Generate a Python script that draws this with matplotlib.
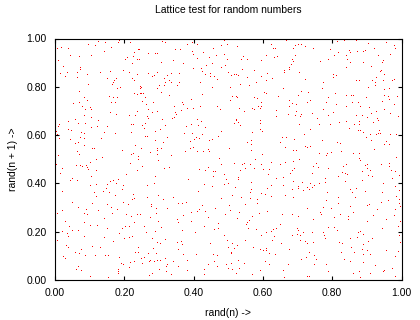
import matplotlib
matplotlib.use("Agg")
import matplotlib.pyplot as plt
from matplotlib.ticker import FormatStrFormatter

# (rand(n), rand(n+1)) pairs, grouped by horizontal band
band_top = [
    (0.184,0.992),(0.125,0.988),(0.217,0.984),(0.145,0.984),(0.182,0.984),(0.096,0.977),(0.115,0.972),(0.018,0.963),(0.006,0.959),(0.038,0.959),
    (0.162,0.963),(0.243,0.955),(0.239,0.955),(0.142,0.947),(0.227,0.943),(0.044,0.930),(0.104,0.930),(0.070,0.926),(0.208,0.922),(0.224,0.926),
    (0.203,0.914),(0.009,0.910),(0.236,0.914),(0.243,0.914),(0.222,0.897),(0.024,0.885),(0.073,0.881),(0.073,0.872),(0.197,0.868),(0.214,0.860),
    (0.130,0.860),(0.159,0.864),(0.015,0.856),(0.035,0.860),(0.064,0.860),(0.093,0.852),(0.236,0.852),(0.030,0.843),(0.064,0.839),(0.150,0.835),
    (0.222,0.835),(0.176,0.835),(0.169,0.827),(0.229,0.827),(0.167,0.818),(0.165,0.810),(0.096,0.810),(0.246,0.802),(0.189,0.798),(0.179,0.794),
    (0.246,0.794),(0.069,0.781),(0.227,0.773),(0.246,0.773),(0.237,0.769),(0.156,0.760),(0.168,0.756),(0.179,0.756),(0.084,0.756),(0.093,0.744),
    (0.174,0.736),(0.069,0.736),(0.162,0.736),(0.053,0.732),(0.077,0.719),(0.102,0.715),(0.088,0.707),(0.104,0.707),(0.237,0.698),(0.159,0.694),
    (0.176,0.686),(0.215,0.682),(0.084,0.682),(0.231,0.682),(0.105,0.674),(0.058,0.665),
    (0.492,0.996),(0.309,0.988),(0.318,0.984),(0.488,0.992),(0.396,0.984),(0.382,0.976),(0.410,0.976),(0.480,0.972),(0.497,0.976),(0.347,0.955),
    (0.361,0.955),(0.457,0.959),(0.396,0.947),(0.428,0.943),(0.269,0.939),(0.289,0.939),(0.295,0.939),(0.398,0.934),(0.487,0.934),(0.465,0.930),
    (0.410,0.918),(0.445,0.922),(0.495,0.914),(0.341,0.910),(0.307,0.901),(0.370,0.897),(0.454,0.897),(0.436,0.889),(0.491,0.889),(0.480,0.881),
    (0.399,0.876),(0.422,0.876),(0.425,0.864),(0.434,0.852),(0.448,0.856),(0.269,0.856),(0.295,0.860),(0.335,0.856),(0.359,0.856),(0.281,0.843),
    (0.286,0.847),(0.322,0.847),(0.315,0.835),(0.448,0.843),(0.460,0.843),(0.328,0.827),(0.318,0.818),(0.334,0.818),(0.359,0.818),(0.419,0.818),
    (0.468,0.831),(0.301,0.806),(0.351,0.806),(0.315,0.806),(0.247,0.798),(0.295,0.794),(0.454,0.798),(0.307,0.777),(0.247,0.773),(0.255,0.773),
    (0.425,0.769),(0.330,0.765),(0.260,0.756),(0.393,0.748),(0.252,0.740),(0.283,0.736),(0.367,0.736),(0.370,0.727),(0.263,0.727),(0.468,0.719),
    (0.419,0.719),(0.344,0.719),(0.269,0.707),(0.382,0.711),(0.364,0.703),(0.399,0.711),(0.477,0.707),(0.295,0.698),(0.281,0.694),(0.347,0.694),
    (0.350,0.686),(0.266,0.678),(0.344,0.674),(0.338,0.669),(0.269,0.669),(0.410,0.665),(0.309,0.665),
    (0.667,0.992),(0.624,0.976),(0.702,0.976),(0.693,0.972),(0.711,0.976),(0.722,0.968),(0.526,0.968),(0.630,0.959),(0.635,0.959),(0.687,0.959),
    (0.745,0.959),(0.610,0.930),(0.543,0.926),(0.633,0.922),(0.641,0.926),(0.693,0.930),(0.537,0.914),(0.555,0.914),(0.685,0.914),(0.595,0.910),
    (0.687,0.905),(0.682,0.893),(0.676,0.881),(0.540,0.872),(0.575,0.868),(0.661,0.868),(0.676,0.872),(0.500,0.860),(0.612,0.856),(0.661,0.860),
    (0.705,0.860),(0.509,0.847),(0.517,0.852),(0.523,0.852),(0.529,0.847),(0.555,0.839),(0.595,0.843),(0.627,0.835),(0.610,0.827),(0.581,0.818),
    (0.722,0.831),(0.534,0.810),(0.560,0.806),(0.506,0.798),(0.659,0.794),(0.604,0.777),(0.610,0.773),(0.731,0.777),(0.711,0.781),(0.702,0.765),
    (0.523,0.760),(0.511,0.760),(0.526,0.756),(0.575,0.756),(0.583,0.752),(0.644,0.760),(0.676,0.744),(0.595,0.736),(0.506,0.744),(0.737,0.744),
    (0.728,0.736),(0.685,0.732),(0.696,0.727),(0.586,0.719),(0.595,0.719),(0.676,0.719),(0.592,0.711),(0.532,0.711),(0.569,0.711),(0.575,0.707),
    (0.546,0.698),(0.638,0.703),(0.696,0.698),(0.742,0.690),(0.711,0.686),(0.673,0.686),(0.693,0.682),(0.638,0.678),(0.708,0.678),(0.523,0.665),
    (0.835,0.992),(0.869,0.992),(0.814,0.988),(0.904,0.980),(0.956,0.984),(0.979,0.972),(0.982,0.959),(0.794,0.955),(0.849,0.951),(0.852,0.943),
    (0.872,0.947),(0.889,0.947),(0.895,0.951),(0.921,0.959),(0.817,0.943),(0.967,0.934),(0.806,0.930),(0.840,0.930),(0.933,0.930),(0.788,0.914),
    (0.843,0.914),(0.947,0.910),(0.944,0.901),(0.765,0.905),(0.852,0.901),(0.889,0.901),(0.912,0.885),(0.840,0.881),(0.941,0.868),(0.938,0.864),
    (0.950,0.852),(0.803,0.852),(0.811,0.847),(0.803,0.839),(0.927,0.839),(0.869,0.827),(0.878,0.827),(0.915,0.827),(0.947,0.827),(0.973,0.827),
    (0.979,0.831),(0.774,0.818),(0.924,0.818),(0.924,0.806),(0.904,0.798),(0.771,0.794),(0.950,0.790),(0.964,0.794),(0.809,0.773),(0.840,0.765),
    (0.855,0.765),(0.861,0.765),(0.950,0.765),(0.898,0.756),(0.962,0.760),(0.788,0.756),(0.988,0.760),(0.964,0.748),(0.944,0.740),(0.783,0.736),
    (0.858,0.736),(0.875,0.736),(0.811,0.727),(0.979,0.727),(0.840,0.719),(0.881,0.719),(0.907,0.715),(0.774,0.707),(0.950,0.707),(0.927,0.698),
    (0.803,0.694),(0.912,0.690),(0.968,0.692),(0.788,0.682),(0.869,0.682),(0.886,0.682),(0.901,0.674),(0.930,0.669),(0.990,0.678),(0.757,0.669),
]

band_middle = [
    (0.038,0.657),(0.058,0.666),(0.087,0.649),(0.125,0.661),(0.067,0.649),(0.012,0.645),(0.009,0.637),(0.104,0.632),(0.122,0.637),(0.151,0.637),
    (0.220,0.645),(0.226,0.645),(0.004,0.616),(0.038,0.624),(0.045,0.620),(0.076,0.612),(0.084,0.608),(0.142,0.612),(0.174,0.608),(0.220,0.612),
    (0.007,0.604),(0.012,0.587),(0.073,0.591),(0.044,0.583),(0.084,0.587),(0.133,0.587),(0.067,0.570),(0.058,0.566),(0.084,0.558),(0.108,0.546),
    (0.113,0.546),(0.232,0.558),(0.064,0.533),(0.070,0.521),(0.194,0.537),(0.226,0.525),(0.220,0.521),(0.240,0.512),(0.240,0.500),(0.136,0.508),
    (0.119,0.500),(0.009,0.517),(0.102,0.488),(0.216,0.486),(0.061,0.475),(0.073,0.475),(0.090,0.475),(0.093,0.467),(0.094,0.459),(0.079,0.471),
    (0.004,0.479),(0.021,0.463),(0.119,0.454),(0.237,0.454),(0.015,0.442),(0.206,0.438),(0.105,0.430),(0.050,0.421),(0.064,0.413),(0.044,0.413),
    (0.183,0.417),(0.159,0.409),(0.168,0.413),(0.118,0.397),(0.151,0.397),(0.102,0.392),(0.177,0.401),(0.197,0.392),(0.139,0.368),(0.148,0.380),
    (0.157,0.363),(0.194,0.376),(0.113,0.363),(0.021,0.368),(0.226,0.355),(0.174,0.351),(0.119,0.347),(0.229,0.339),(0.223,0.334),
    (0.309,0.666),(0.410,0.666),(0.422,0.657),(0.260,0.649),(0.252,0.641),(0.318,0.641),(0.393,0.645),(0.413,0.641),(0.379,0.637),(0.258,0.628),
    (0.304,0.624),(0.289,0.616),(0.434,0.632),(0.373,0.608),(0.396,0.608),(0.425,0.604),(0.480,0.616),(0.471,0.595),(0.260,0.595),(0.266,0.595),
    (0.324,0.593),(0.408,0.591),(0.416,0.587),(0.402,0.583),(0.390,0.575),(0.289,0.579),(0.454,0.583),(0.445,0.579),(0.312,0.570),(0.295,0.546),
    (0.307,0.546),(0.249,0.546),(0.399,0.550),(0.390,0.546),(0.295,0.537),(0.275,0.529),(0.376,0.533),(0.410,0.533),(0.428,0.533),(0.442,0.541),
    (0.445,0.533),(0.295,0.521),(0.335,0.517),(0.474,0.504),(0.298,0.496),(0.480,0.479),(0.252,0.471),(0.315,0.463),(0.330,0.467),(0.416,0.459),
    (0.434,0.454),(0.442,0.467),(0.457,0.450),(0.462,0.450),(0.488,0.438),(0.457,0.430),(0.289,0.430),(0.384,0.417),(0.494,0.417),(0.286,0.401),
    (0.431,0.397),(0.266,0.392),(0.454,0.388),(0.488,0.397),(0.413,0.368),(0.298,0.351),(0.266,0.343),(0.312,0.334),(0.341,0.343),(0.478,0.339),
    (0.523,0.661),(0.592,0.661),(0.529,0.653),(0.517,0.649),(0.533,0.641),(0.592,0.649),(0.705,0.645),(0.737,0.624),(0.592,0.624),(0.598,0.616),
    (0.569,0.612),(0.719,0.604),(0.656,0.591),(0.667,0.591),(0.690,0.583),(0.566,0.579),(0.555,0.570),(0.650,0.570),(0.566,0.562),(0.722,0.554),
    (0.728,0.550),(0.737,0.554),(0.664,0.550),(0.503,0.546),(0.566,0.537),(0.687,0.537),(0.696,0.537),(0.598,0.521),(0.578,0.500),(0.705,0.500),
    (0.517,0.483),(0.540,0.479),(0.546,0.483),(0.563,0.479),(0.595,0.479),(0.624,0.488),(0.650,0.479),(0.664,0.488),(0.687,0.492),(0.745,0.471),
    (0.534,0.454),(0.549,0.463),(0.575,0.463),(0.601,0.459),(0.618,0.461),(0.690,0.463),(0.685,0.454),(0.679,0.442),(0.742,0.442),(0.615,0.438),
    (0.529,0.426),(0.529,0.417),(0.638,0.421),(0.659,0.426),(0.687,0.409),(0.566,0.405),(0.500,0.401),(0.713,0.405),(0.737,0.401),(0.702,0.388),
    (0.702,0.380),(0.742,0.384),(0.748,0.392),(0.624,0.392),(0.659,0.392),(0.520,0.384),(0.612,0.380),(0.685,0.376),(0.728,0.384),(0.716,0.372),
    (0.734,0.376),(0.566,0.376),(0.563,0.363),(0.595,0.359),(0.607,0.355),(0.664,0.351),(0.512,0.351),(0.537,0.343),(0.563,0.339),(0.584,0.334),
    (0.624,0.347),(0.687,0.343),
    (0.841,0.659),(0.878,0.657),(0.918,0.653),(0.933,0.661),(0.762,0.645),(0.794,0.645),(0.820,0.653),(0.862,0.645),(0.878,0.645),(0.849,0.628),
    (0.875,0.620),(0.881,0.620),(0.889,0.612),(0.936,0.620),(0.910,0.604),(0.927,0.604),(0.933,0.608),(0.938,0.608),(0.967,0.604),(0.985,0.604),
    (0.898,0.591),(0.772,0.581),(0.912,0.579),(0.956,0.575),(0.950,0.562),(0.964,0.562),(0.814,0.570),(0.823,0.566),(0.921,0.541),(0.826,0.533),
    (0.762,0.525),(0.785,0.525),(0.797,0.529),(0.783,0.517),(0.861,0.525),(0.878,0.525),(0.985,0.508),(0.878,0.504),(0.881,0.496),(0.754,0.483),
    (0.840,0.479),(0.895,0.475),(0.901,0.479),(0.760,0.467),(0.941,0.479),(0.964,0.483),(0.964,0.471),(0.832,0.471),(0.788,0.463),(0.901,0.463),
    (0.829,0.446),(0.837,0.442),(0.843,0.438),(0.886,0.450),(0.910,0.454),(0.970,0.454),(0.982,0.450),(0.993,0.434),(0.817,0.430),(0.904,0.434),
    (0.915,0.430),(0.780,0.421),(0.973,0.421),(0.886,0.413),(0.837,0.409),(0.780,0.405),(0.762,0.401),(0.947,0.401),(0.748,0.392),(0.981,0.388),
    (0.850,0.376),(0.869,0.380),(0.895,0.368),(0.858,0.363),(0.785,0.363),(0.944,0.363),(0.993,0.372),(0.817,0.343),(0.866,0.343),(0.985,0.347),
    (0.783,0.330),(0.993,0.334),
]

band_bottom = [
    (0.048,0.323),(0.108,0.317),(0.151,0.313),(0.197,0.325),(0.211,0.313),(0.067,0.301),(0.162,0.301),(0.090,0.292),(0.019,0.288),(0.125,0.288),
    (0.180,0.292),(0.007,0.276),(0.084,0.276),(0.093,0.272),(0.165,0.276),(0.206,0.272),(0.246,0.272),(0.237,0.272),(0.220,0.263),(0.142,0.255),
    (0.030,0.243),(0.084,0.239),(0.229,0.239),(0.041,0.222),(0.102,0.226),(0.122,0.226),(0.214,0.222),(0.203,0.222),(0.194,0.214),(0.151,0.214),
    (0.050,0.205),(0.021,0.201),(0.067,0.205),(0.185,0.193),(0.035,0.193),(0.038,0.181),(0.084,0.181),(0.142,0.176),(0.214,0.176),(0.223,0.181),
    (0.200,0.172),(0.007,0.164),(0.168,0.160),(0.032,0.143),(0.038,0.135),(0.108,0.139),(0.131,0.135),(0.240,0.135),(0.076,0.127),(0.058,0.114),
    (0.070,0.110),(0.087,0.102),(0.116,0.102),(0.145,0.102),(0.154,0.102),(0.232,0.114),(0.240,0.114),(0.024,0.098),(0.030,0.090),(0.185,0.094),
    (0.229,0.077),(0.217,0.073),(0.191,0.069),(0.197,0.065),(0.067,0.056),(0.061,0.044),(0.076,0.040),(0.183,0.044),(0.183,0.036),(0.183,0.027),
    (0.214,0.052),(0.102,0.015),(0.154,0.011),
    (0.379,0.325),(0.356,0.317),(0.367,0.317),(0.278,0.313),(0.425,0.309),(0.278,0.305),(0.292,0.297),(0.324,0.297),(0.416,0.292),(0.462,0.297),
    (0.410,0.284),(0.393,0.280),(0.434,0.284),(0.246,0.272),(0.292,0.276),(0.368,0.268),(0.442,0.259),(0.491,0.272),(0.275,0.259),(0.353,0.251),
    (0.356,0.239),(0.298,0.243),(0.393,0.243),(0.471,0.234),(0.258,0.222),(0.307,0.218),(0.431,0.222),(0.471,0.214),(0.460,0.210),(0.289,0.201),
    (0.367,0.205),(0.263,0.197),(0.405,0.197),(0.488,0.185),(0.281,0.172),(0.497,0.164),(0.295,0.156),(0.304,0.152),(0.318,0.168),(0.353,0.156),
    (0.364,0.160),(0.367,0.147),(0.448,0.152),(0.356,0.127),(0.283,0.131),(0.269,0.110),(0.292,0.110),(0.370,0.106),(0.408,0.106),(0.457,0.106),
    (0.468,0.102),(0.249,0.090),(0.258,0.094),(0.275,0.081),(0.286,0.079),(0.295,0.081),(0.272,0.077),(0.304,0.081),(0.318,0.090),(0.341,0.077),
    (0.382,0.081),(0.460,0.077),(0.252,0.069),(0.324,0.065),(0.494,0.065),(0.442,0.065),(0.321,0.056),(0.356,0.056),(0.468,0.056),(0.301,0.044),
    (0.431,0.044),(0.321,0.036),(0.281,0.027),(0.334,0.023),(0.431,0.023),(0.272,0.019),(0.382,0.040),
    (0.503,0.309),(0.549,0.313),(0.584,0.317),(0.728,0.297),(0.506,0.288),(0.612,0.284),(0.589,0.276),(0.532,0.280),(0.569,0.263),(0.656,0.272),
    (0.685,0.272),(0.702,0.263),(0.745,0.251),(0.526,0.255),(0.560,0.247),(0.555,0.239),(0.552,0.230),(0.650,0.230),(0.581,0.212),(0.558,0.214),
    (0.638,0.214),(0.630,0.210),(0.624,0.201),(0.699,0.214),(0.702,0.205),(0.610,0.197),(0.699,0.189),(0.716,0.197),(0.742,0.197),(0.595,0.185),
    (0.633,0.181),(0.685,0.185),(0.708,0.185),(0.549,0.164),(0.627,0.164),(0.708,0.164),(0.722,0.160),(0.728,0.152),(0.511,0.152),(0.653,0.152),
    (0.745,0.156),(0.500,0.135),(0.526,0.143),(0.572,0.135),(0.517,0.131),(0.592,0.127),(0.601,0.123),(0.610,0.131),(0.610,0.123),(0.509,0.118),
    (0.509,0.110),(0.618,0.110),(0.635,0.106),(0.676,0.127),(0.734,0.114),(0.748,0.102),(0.725,0.094),(0.529,0.081),(0.607,0.077),(0.618,0.065),
    (0.711,0.085),(0.509,0.069),(0.546,0.069),(0.673,0.065),(0.500,0.048),(0.512,0.046),(0.532,0.048),(0.592,0.040),(0.659,0.040),(0.523,0.027),
    (0.569,0.023),(0.660,0.014),(0.728,0.015),(0.734,0.015),
    (0.783,0.330),(0.962,0.330),(0.817,0.317),(0.852,0.305),(0.901,0.309),(0.907,0.313),(0.941,0.325),(0.993,0.317),(0.996,0.305),(0.774,0.301),
    (0.797,0.297),(0.930,0.292),(0.982,0.292),(0.765,0.280),(0.768,0.272),(0.861,0.280),(0.823,0.272),(0.917,0.270),(0.806,0.259),(0.846,0.263),
    (0.846,0.251),(0.956,0.251),(0.978,0.270),(0.901,0.243),(0.996,0.243),(0.990,0.222),(0.788,0.218),(0.806,0.218),(0.944,0.214),(0.814,0.205),
    (0.875,0.197),(0.774,0.197),(0.881,0.201),(0.777,0.185),(0.780,0.172),(0.889,0.189),(0.852,0.172),(0.872,0.176),(0.915,0.172),(0.993,0.185),
    (0.820,0.156),(0.829,0.152),(0.904,0.160),(0.889,0.147),(0.855,0.135),(0.886,0.127),(0.901,0.123),(0.996,0.156),(0.748,0.102),(0.826,0.114),
    (0.863,0.114),(0.889,0.106),(0.910,0.106),(0.956,0.123),(0.991,0.120),(0.754,0.085),(0.835,0.085),(0.852,0.077),(0.889,0.073),(0.982,0.098),
    (0.748,0.065),(0.783,0.065),(0.924,0.061),(0.950,0.040),(0.947,0.036),(0.974,0.048),(0.788,0.036),(0.861,0.027),(0.878,0.036),(0.910,0.027),
    (0.982,0.017),(0.881,0.011),
]

title = "Lattice test for random numbers"
x_label = "rand(n) ->"
y_label = "rand(n + 1) ->"
tick_values = [0.0, 0.2, 0.4, 0.6, 0.8, 1.0]

plt.rcParams['font.family'] = ['Liberation Sans', 'DejaVu Sans']

points = band_top + band_middle + band_bottom
rand_n = [p[0] for p in points]
rand_n1 = [p[1] for p in points]

fig = plt.figure(figsize=(4.2, 3.2), dpi=100)
ax = fig.add_axes([55/420, 1 - 280/320, 346.5/420, 241.5/320])

ax.plot(rand_n, rand_n1, linestyle='none', marker='s', markersize=0.72,
        markeredgewidth=0, color='#ff0000', antialiased=False)

ax.set_xlim(0, 1)
ax.set_ylim(0, 1)
ax.set_xticks(tick_values)
ax.set_yticks(tick_values)
ax.xaxis.set_major_formatter(FormatStrFormatter('%.2f'))
ax.yaxis.set_major_formatter(FormatStrFormatter('%.2f'))
ax.tick_params(direction='in', top=True, right=True, length=3, width=0.8,
               labelsize=7.5, pad=6, color='black')
for s in ax.spines.values():
    s.set_linewidth(0.8)
    s.set_color('black')

ax.set_title(title, fontsize=7.5, y=(280 - 18) / 241.5, va='center')
ax.set_xlabel(x_label, fontsize=7.5, va='center')
ax.xaxis.set_label_coords(0.5, (280 - 313) / 241.5)
ax.set_ylabel(y_label, fontsize=7.5, va='center')
ax.yaxis.set_label_coords((13 - 55) / 346.5, 0.5)

fig.savefig('out.png', dpi=100)
